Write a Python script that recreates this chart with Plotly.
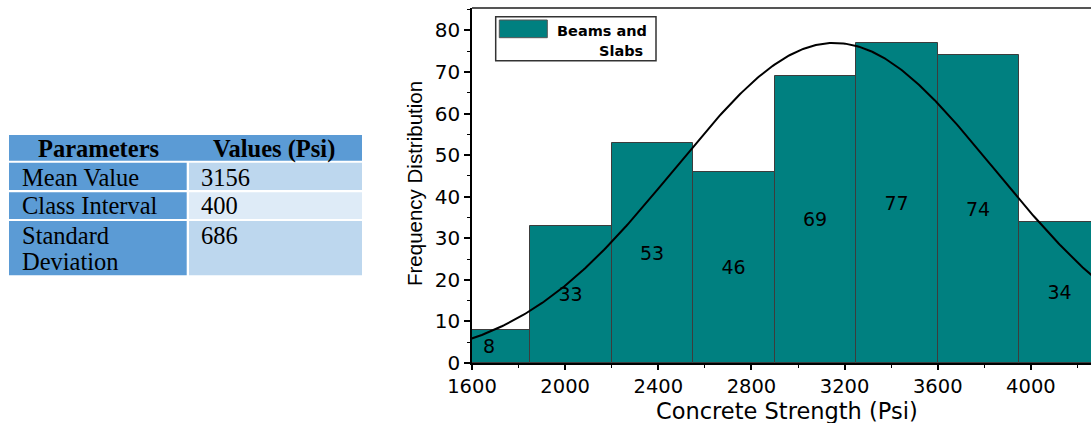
import numpy as np
import plotly.graph_objects as go

# ---------------- data ----------------
BIN_LEFT = [1500, 1850, 2200, 2550, 2900, 3250, 3600, 3950]
BIN_WIDTH = 350
COUNTS = [8, 33, 53, 46, 69, 77, 74, 34]

PARAM_NAMES = ["Mean Value", "Class Interval", "Standard", "Deviation"]
PARAM_VALUES = ["3156", "400", "686"]
TABLE_HEADERS = ["Parameters", "Values (Psi)"]

MEAN = 3156
SD = 686
PEAK = 77  # height of the fitted normal curve

X_TICKS = [1600, 2000, 2400, 2800, 3200, 3600, 4000]
Y_TICKS = [0, 10, 20, 30, 40, 50, 60, 70, 80]
SERIES_NAME = ["Beams and", "Slabs"]
X_TITLE = "Concrete Strength (Psi)"
Y_TITLE = "Frequency Distribution"

# ---------------- layout geometry ----------------
W, H = 1091, 423
L, R, T, B = 472, 0, 8, 60
PW = W - L - R
PH = H - T - B


def px(x):
    return (x - L) / PW


def py(y):
    return (H - B - y) / PH


TEAL = "#008080"
BLUE = "#5B9BD5"
LIGHT1 = "#BDD7EE"
LIGHT2 = "#DEEBF7"

fig = go.Figure()

fig.add_trace(go.Bar(
    x=BIN_LEFT, y=COUNTS, width=BIN_WIDTH, offset=0,
    marker=dict(color=TEAL, line=dict(color="#3c3c3c", width=1)),
    text=[str(c) for c in COUNTS],
    textposition="inside", insidetextanchor="middle", textangle=0,
    constraintext="none",
    textfont=dict(family="DejaVu Sans", size=19, color="black"),
    showlegend=False,
))

xc = np.linspace(1450, 4400, 400)
yc = PEAK * np.exp(-0.5 * ((xc - MEAN) / SD) ** 2)
fig.add_trace(go.Scatter(x=xc, y=yc, mode="lines",
                         line=dict(color="black", width=2), showlegend=False))

shapes = []
annots = []

# top frame line
shapes.append(dict(type="line", xref="paper", yref="paper", x0=0, x1=1, y0=1, y1=1,
                   line=dict(color="#555555", width=2)))

# legend box
shapes.append(dict(type="rect", xref="paper", yref="paper",
                   x0=px(495.7), x1=px(656), y0=py(16.7), y1=py(60.7),
                   fillcolor="white", line=dict(color="#333333", width=1.5)))
shapes.append(dict(type="rect", xref="paper", yref="paper",
                   x0=px(499.3), x1=px(547.3), y0=py(20), y1=py(37.7),
                   fillcolor=TEAL, line=dict(color="#555555", width=1)))
annots.append(dict(text=f"<b>{SERIES_NAME[0]}</b>", x=px(601.5), y=py(30.5),
                   xref="paper", yref="paper", xanchor="center", yanchor="middle",
                   showarrow=False, font=dict(family="DejaVu Sans", size=14.5, color="black")))
annots.append(dict(text=f"<b>{SERIES_NAME[1]}</b>", x=px(621), y=py(51.5),
                   xref="paper", yref="paper", xanchor="center", yanchor="middle",
                   showarrow=False, font=dict(family="DejaVu Sans", size=14.5, color="black")))

# axis titles
annots.append(dict(text=X_TITLE, x=px(786.5), y=py(411), xref="paper", yref="paper",
                   xanchor="center", yanchor="middle", showarrow=False, borderpad=0,
                   font=dict(family="DejaVu Sans", size=22.5, color="black")))
annots.append(dict(text=Y_TITLE, x=px(414), y=py(184), xref="paper", yref="paper",
                   xanchor="center", yanchor="middle", showarrow=False, borderpad=0,
                   textangle=-90,
                   font=dict(family="Liberation Sans", size=20.5, color="black")))


# table
def rect(x0, x1, y0, y1, color):
    shapes.append(dict(type="rect", xref="paper", yref="paper",
                       x0=px(x0), x1=px(x1), y0=py(y0), y1=py(y1),
                       fillcolor=color, line=dict(width=0), layer="above"))


rect(9, 362, 135, 160.7, BLUE)
rect(9, 186.7, 162.7, 190, BLUE)
rect(189, 362, 162.7, 190, LIGHT1)
rect(9, 186.7, 192.3, 219, BLUE)
rect(189, 362, 192.3, 219, LIGHT2)
rect(9, 186.7, 221, 275.3, BLUE)
rect(189, 362, 221, 275.3, LIGHT1)

TF = "Liberation Serif"
FS = 24.5


def txt(s, x, y, anchor="left", bold=False):
    annots.append(dict(text=f"<b>{s}</b>" if bold else s, x=px(x), y=py(y),
                       xref="paper", yref="paper", xanchor=anchor, yanchor="middle",
                       showarrow=False, borderpad=0,
                       font=dict(family=TF, size=FS, color="black")))


txt(TABLE_HEADERS[0], 98, 148.5, "center", True)
txt(TABLE_HEADERS[1], 273.5, 148.5, "center", True)
txt(PARAM_NAMES[0], 21, 177)
txt(PARAM_NAMES[1], 21, 206)
txt(PARAM_NAMES[2], 21, 235)
txt(PARAM_NAMES[3], 21, 261.5)
txt(PARAM_VALUES[0], 200, 177)
txt(PARAM_VALUES[1], 200, 206)
txt(PARAM_VALUES[2], 200, 235)

fig.update_layout(
    width=W, height=H,
    margin=dict(l=L, r=R, t=T, b=B, autoexpand=False),
    plot_bgcolor="white", paper_bgcolor="white",
    bargap=0, showlegend=False,
    shapes=shapes, annotations=annots,
    xaxis=dict(
        range=[1600, 4258], tickmode="array", tickvals=X_TICKS,
        ticktext=[str(v) for v in X_TICKS],
        ticks="outside", ticklen=5, tickwidth=1.5, tickcolor="black",
        minor=dict(dtick=200, tick0=1600, ticks="outside", ticklen=3, tickcolor="black", tickwidth=1),
        showline=True, linecolor="black", linewidth=1.5,
        showgrid=False, zeroline=False,
        tickfont=dict(family="DejaVu Sans", size=19.5, color="black"),
    ),
    yaxis=dict(
        range=[0, 85.4], tickmode="array", tickvals=Y_TICKS,
        ticktext=[str(v) for v in Y_TICKS],
        ticks="outside", ticklen=6, tickwidth=1.5, tickcolor="black",
        minor=dict(dtick=5, tick0=0, ticks="outside", ticklen=3, tickcolor="black", tickwidth=1),
        showline=True, linecolor="black", linewidth=1.5,
        showgrid=False, zeroline=False,
        tickfont=dict(family="DejaVu Sans", size=20, color="black"),
    ),
)

fig.write_html("out.html")
